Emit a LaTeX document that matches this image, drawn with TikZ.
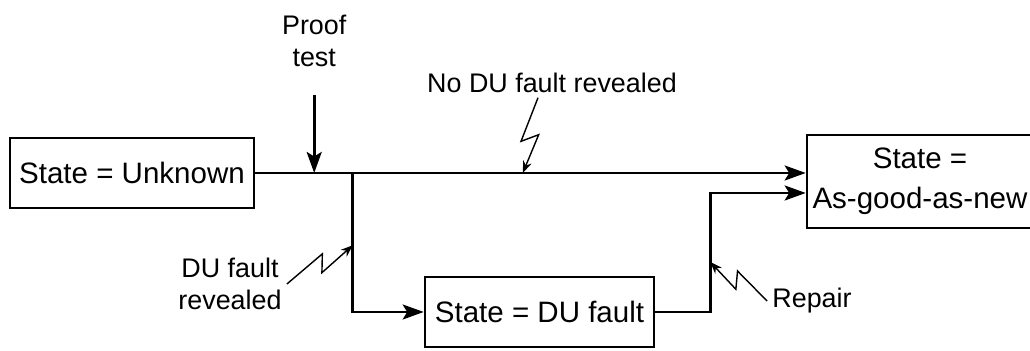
\documentclass[tikz,border=0pt]{standalone}
\usepackage{fontspec}
\setmainfont{Liberation Sans}
\usetikzlibrary{arrows.meta,positioning,calc}

\begin{document}
\begin{tikzpicture}[
    state/.style={draw, line width=1.5pt, align=center, inner sep=0pt, font=\fontsize{16.8pt}{22.7pt}\selectfont},
    lbl/.style={align=center, inner sep=1mm, font=\fontsize{15.3pt}{18pt}\selectfont},
    arrow/.style={-{Stealth[length=4.2mm, width=3mm, inset=0.9mm]}, line width=1.5pt},
    bolt/.style={-{Stealth[length=2.4mm, width=1.8mm]}, line width=0.8pt,
        to path={-- ($(\tikztostart)!0.6!(\tikztotarget)!1.6mm!#1:(\tikztotarget)$)
                 -- ($(\tikztostart)!0.47!(\tikztotarget)!1.6mm!#1+180:(\tikztotarget)$)
                 -- (\tikztotarget)}},
    bolt/.default=-90
]
\useasboundingbox (0,0) rectangle (20.6,7.02);
\node[state, minimum width=4.88cm, minimum height=1.40cm] (unknown) at (2.64,3.56) {State = Unknown};
\node[state, minimum width=4.58cm, minimum height=1.40cm] (du) at (10.79,0.78) {State = DU fault};
\node[state, minimum width=4.52cm, minimum height=1.86cm] (asnew) at (18.40,3.39) {State =\\As-good-as-new};
\draw[arrow] (unknown.east) -- coordinate[pos=0.107] (ptest) coordinate[pos=0.177] (split)
    coordinate[pos=0.486] (nhit) (unknown.east -| asnew.west);
\draw[arrow] (split) |- coordinate[pos=0.26] (dhit) (du.west);
\draw[arrow] (du.east) -- ++(1.10,0) |- coordinate[pos=0.21] (rhit) ([yshift=-0.23cm]asnew.west);
\node[lbl, above=2.02cm of ptest] (proof) {Proof\\test};
\draw[arrow, shorten <=0.46cm] (proof) -- (ptest);
\node[lbl] (nodu) at (11.04,5.37) {No DU fault revealed};
\node[lbl] (dulab) at (4.60,1.34) {DU fault\\revealed};
\node[lbl] (repair) at (16.24,1.00) {Repair};
\draw[bolt] ([xshift=-0.28cm]nodu.south) to (nhit);
\draw[bolt=90] (dulab.east) to (dhit);
\draw[bolt] (repair.west) to (rhit);
\end{tikzpicture}
\end{document}
